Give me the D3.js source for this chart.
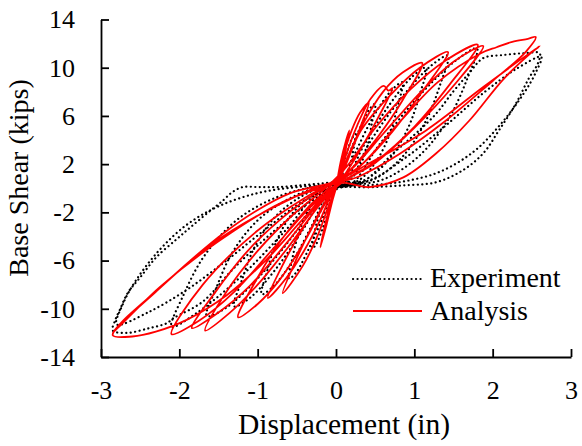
<!DOCTYPE html>
<html>
<head>
<meta charset="utf-8">
<script src="https://cdn.jsdelivr.net/npm/d3@7"></script>
<style>
body { margin: 0; background: #fff; }
</style>
</head>
<body>
<svg id="chart" width="582" height="446"></svg>
<script>
"use strict";

const xTicks = [-3, -2, -1, 0, 1, 2, 3];
const yTicks = [-14, -10, -6, -2, 2, 6, 10, 14];
const seriesNames = ["Experiment", "Analysis"];
const fontFamily = "Liberation Serif";

// test record, [displacement (in), base shear (kips)], one small loop per row
const experiment = [
    [[0,0],[0.03,0.4],[0.08,1.6],[0.15,3.2],[0.21,4.2],[0.25,4.5],[0.23,3.5],[0.19,2.2],[0.13,1.1],[0.06,0.4],[0,0.1],
     [-0.03,-0.4],[-0.09,-1.8],[-0.18,-3.5],[-0.25,-4.6],[-0.3,-5.0],[-0.28,-3.9],[-0.23,-2.5],[-0.15,-1.2],[-0.07,-0.4],[0,0]],
    [[0.05,0.6],[0.15,2.5],[0.3,4.9],[0.42,6.5],[0.5,7.0],[0.46,5.5],[0.4,3.5],[0.3,1.8],[0.17,0.6],[0.04,0.1],
     [-0.06,-0.6],[-0.18,-2.6],[-0.36,-5.2],[-0.51,-7.0],[-0.6,-7.5],[-0.56,-5.9],[-0.48,-3.8],[-0.36,-1.9],[-0.2,-0.6],[-0.04,0.0]],
    [[0.08,0.5],[0.25,3.0],[0.5,6.2],[0.72,8.2],[0.85,8.8],[0.79,6.9],[0.68,4.4],[0.51,2.2],[0.3,0.7],[0.08,0.2],
     [-0.1,-0.4],[-0.3,-3.0],[-0.57,-6.2],[-0.81,-8.2],[-0.95,-8.8],[-0.88,-6.9],[-0.76,-4.4],[-0.57,-2.2],[-0.33,-0.7],[-0.08,0.1]],
    [[0.1,0.4],[0.35,3.5],[0.69,7.0],[0.98,9.3],[1.15,10.0],[1.07,7.8],[0.92,5.0],[0.69,2.5],[0.4,0.8],[0.1,0.2],
     [-0.13,-0.3],[-0.4,-3.2],[-0.78,-6.8],[-1.1,-9.1],[-1.3,-9.8],[-1.2,-7.6],[-1.04,-4.9],[-0.78,-2.4],[-0.45,-0.7],[-0.12,0.2]],
    [[0.14,0.4],[0.43,3.8],[0.86,7.7],[1.22,10.2],[1.43,11.0],[1.33,8.6],[1.14,5.5],[0.86,2.7],[0.5,0.8],[0.14,0.2],
     [-0.17,-0.3],[-0.5,-3.5],[-0.99,-7.4],[-1.4,-9.9],[-1.65,-10.6],[-1.53,-8.3],[-1.32,-5.3],[-0.99,-2.6],[-0.58,-0.8],[-0.15,0.2]],
    [[0.18,0.3],[0.54,3.5],[1.08,7.8],[1.53,10.6],[1.8,11.6],[1.67,9.0],[1.44,5.8],[1.08,2.8],[0.63,0.8],[0.18,0.2],
     [-0.21,-0.3],[-0.63,-3.4],[-1.26,-7.6],[-1.79,-10.4],[-2.1,-11.5],[-1.95,-8.9],[-1.68,-5.6],[-1.26,-2.6],[-0.74,-0.7],[-0.2,0.2]],
    [[0.3,0.4],[0.73,2.9],[1.02,4.55],[1.28,6.2],[1.49,7.97],[1.7,9.55],[1.88,10.8],[2.13,11.05],[2.39,11.2],[2.6,11.2],
     [2.58,10.4],[2.46,9.1],[2.3,7.06],[2.08,4.8],[1.88,2.9],[1.62,1.5],[1.28,0.5],[0.86,0.24],[0.42,0.08],[0,0],
     [-0.3,-1.0],[-0.8,-3.6],[-1.3,-6.6],[-1.7,-9.4],[-2.08,-10.8],[-2.16,-11.2],[-2.38,-11.6],[-2.67,-12.0],[-2.85,-11.8],
     [-2.82,-10.97],[-2.76,-10.1],[-2.66,-8.7],[-2.5,-7.4],[-2.29,-5.7],[-2.03,-4.2],[-1.86,-3.25],[-1.65,-2.1],[-1.44,-1.0],
     [-1.32,-0.3],[-1.19,0.1],[-1.01,0.1],[-0.75,0.1],[-0.35,0.3],[0,0.5]],
    [[0.4,0.6],[0.9,2.6],[1.4,5.2],[1.9,8.0],[2.3,9.9],[2.62,10.9],[2.55,9.6],[2.4,7.9],[2.1,5.3],[1.75,3.0],[1.3,1.3],[0.8,0.5],[0.3,0.2],[0,0.1],
     [-0.4,-1.0],[-0.9,-3.4],[-1.4,-6.0],[-1.9,-8.4],[-2.4,-10.3],[-2.8,-11.3],[-2.72,-9.6],[-2.55,-7.6],[-2.25,-5.1],[-1.9,-3.0],[-1.5,-1.5],[-1.0,-0.4],[-0.5,0.1],[0,0.3]]
];

// model response, same units
const analysis = [
    [[0,0],[0.06,2.2],[0.13,4.0],[0.17,4.8],[0.11,2.8],[0.04,0.9],[-0.04,-0.9],[-0.12,-3.0],[-0.2,-4.9],[-0.13,-2.8],[-0.04,-0.5],[0.02,0.6]],
    [[0.1,2.8],[0.2,4.8],[0.31,6.3],[0.42,7.1],[0.3,4.9],[0.16,2.5],[0.05,0.8],[-0.08,-1.2],[-0.22,-3.7],[-0.42,-6.4],[-0.68,-8.7],
     [-0.5,-5.8],[-0.3,-3.1],[-0.12,-0.9],[0.02,0.5]],
    [[0.12,2.6],[0.27,5.2],[0.44,7.4],[0.61,8.5],[0.67,8.1],[0.72,8.3],[0.55,6.0],[0.32,3.3],[0.12,1.2],[-0.05,-0.4],[-0.2,-2.6],
     [-0.4,-5.1],[-0.63,-7.4],[-0.87,-9.1],[-0.66,-6.1],[-0.4,-3.1],[-0.16,-0.9],[0.02,0.5]],
    [[0.15,2.6],[0.35,5.4],[0.6,8.0],[0.85,9.6],[1.1,10.4],[0.85,7.3],[0.55,4.4],[0.25,2.0],[0.05,0.6],[-0.15,-1.4],[-0.4,-4.4],
     [-0.72,-7.6],[-1.0,-9.6],[-1.25,-10.7],[-1.0,-7.4],[-0.7,-4.3],[-0.36,-1.6],[-0.05,0.3]],
    [[0.12,2.0],[0.32,4.8],[0.69,7.7],[1.07,10.0],[1.43,11.3],[1.1,8.0],[0.72,4.7],[0.32,1.9],[0.05,0.5],[-0.2,-1.3],[-0.6,-4.8],
     [-1.0,-8.0],[-1.35,-10.3],[-1.67,-11.8],[-1.4,-8.6],[-1.0,-5.2],[-0.55,-2.2],[-0.1,0.2]],
    [[0.15,1.9],[0.5,5.0],[0.95,8.2],[1.4,10.6],[1.81,11.9],[1.45,8.6],[1.0,5.1],[0.5,2.2],[0.1,0.6],[-0.2,-1.1],[-0.6,-4.3],
     [-1.1,-8.1],[-1.5,-10.3],[-1.84,-11.6],[-1.55,-8.7],[-1.1,-5.0],[-0.6,-2.0],[-0.1,0.3]],
    [[0.2,1.6],[0.6,4.5],[1.1,8.1],[1.5,10.5],[1.88,11.8],[1.5,8.5],[1.0,5.0],[0.5,2.1],[0.1,0.6],[-0.3,-1.4],[-0.8,-5.0],
     [-1.3,-8.6],[-1.75,-11.0],[-2.1,-12.1],[-1.7,-8.0],[-1.0,-3.5],[-0.4,-0.8],[0.0,0.6]],
    [[0.3,1.8],[0.8,5.4],[1.3,8.8],[1.85,11.2],[2.05,11.7],[2.25,12.15],[2.45,12.4],[2.55,12.55],[2.42,11.3],[2.0,8.9],[1.4,5.6],
     [0.8,2.8],[0.3,1.0],[0.0,0.3],[-0.4,-2.4],[-0.9,-6.0],[-1.4,-8.9],[-1.9,-10.9],[-2.3,-11.9],[-2.6,-12.3],[-2.85,-12.2],
     [-2.3,-8.6],[-1.6,-4.7],[-0.8,-1.6],[0.0,0.5]],
    [[0.42,0.1],[0.86,0.9],[1.28,2.9],[1.7,5.6],[2.13,9.0],[2.45,11.0],[2.6,11.8],[1.88,8.4],[1.15,4.8],[0.42,2.05],[0.0,0.6],
     [-0.59,-0.42],[-1.01,-1.84],[-1.44,-3.75],[-1.86,-6.0],[-2.29,-8.5],[-2.72,-11.0],[-2.85,-12.0],[-2.25,-8.2],[-1.5,-4.4],
     [-0.7,-1.2],[0,0.4]]
];

const svg = d3.select("#chart");

const x = d3.scaleLinear().domain([-3, 3]).range([101, 571]);
const y = d3.scaleLinear().domain([-14, 14]).range([357, 19.5]);

const line = d3.line()
    .x(d => x(d[0]))
    .y(d => y(d[1]))
    .curve(d3.curveCatmullRom.alpha(0.5));

// the loops are drawn as one path per series
svg.append("path")
    .datum(experiment.flat())
    .attr("d", line)
    .attr("fill", "none")
    .attr("stroke", "#000")
    .attr("stroke-width", 2.2)
    .attr("stroke-linecap", "round")
    .attr("stroke-dasharray", "0.1, 4.4");

svg.append("path")
    .datum(analysis.flat())
    .attr("d", line)
    .attr("fill", "none")
    .attr("stroke", "#ff0000")
    .attr("stroke-width", 1.8)
    .attr("stroke-linejoin", "round");

// axes, ticks pointing inside
const xAxis = svg.append("g")
    .attr("transform", "translate(0,357)")
    .call(d3.axisBottom(x)
        .tickValues(xTicks)
        .tickSizeInner(-8)
        .tickSizeOuter(0)
        .tickPadding(23.5)
        .tickFormat(d => String(d)));

const yAxis = svg.append("g")
    .attr("transform", "translate(101,0)")
    .call(d3.axisLeft(y)
        .tickValues(yTicks)
        .tickSizeInner(-8)
        .tickSizeOuter(0)
        .tickPadding(26)
        .tickFormat(d => String(d)));

[xAxis, yAxis].forEach(function(g) {
    g.attr("font-family", null).attr("font-size", null);
    g.selectAll("path.domain").attr("stroke", "#000").attr("stroke-width", 1.8);
    g.selectAll(".tick line").attr("stroke", "#000").attr("stroke-width", 1.8);
    g.selectAll(".tick text")
        .attr("fill", "#000")
        .attr("font-family", fontFamily)
        .attr("font-size", 26);
});

svg.append("text")
    .attr("x", 344)
    .attr("y", 434)
    .attr("text-anchor", "middle")
    .attr("font-family", fontFamily)
    .attr("font-size", 29.5)
    .text("Displacement (in)");

svg.append("text")
    .attr("transform", "translate(28,178) rotate(-90)")
    .attr("text-anchor", "middle")
    .attr("font-family", fontFamily)
    .attr("font-size", 28)
    .text("Base Shear (kips)");

// legend
const legend = svg.append("g").attr("transform", "translate(353,0)");
legend.append("line")
    .attr("x1", 0).attr("x2", 69).attr("y1", 279).attr("y2", 279)
    .attr("stroke", "#000").attr("stroke-width", 2.2)
    .attr("stroke-linecap", "round").attr("stroke-dasharray", "0.1, 4.4");
legend.append("line")
    .attr("x1", 0).attr("x2", 69).attr("y1", 311).attr("y2", 311)
    .attr("stroke", "#ff0000").attr("stroke-width", 1.8);
legend.selectAll("text.leg")
    .data(seriesNames)
    .enter().append("text")
    .attr("class", "leg")
    .attr("x", 77)
    .attr("y", (d, i) => 287 + i * 33)
    .attr("font-family", fontFamily)
    .attr("font-size", 28)
    .text(d => d);
</script>
</body>
</html>
